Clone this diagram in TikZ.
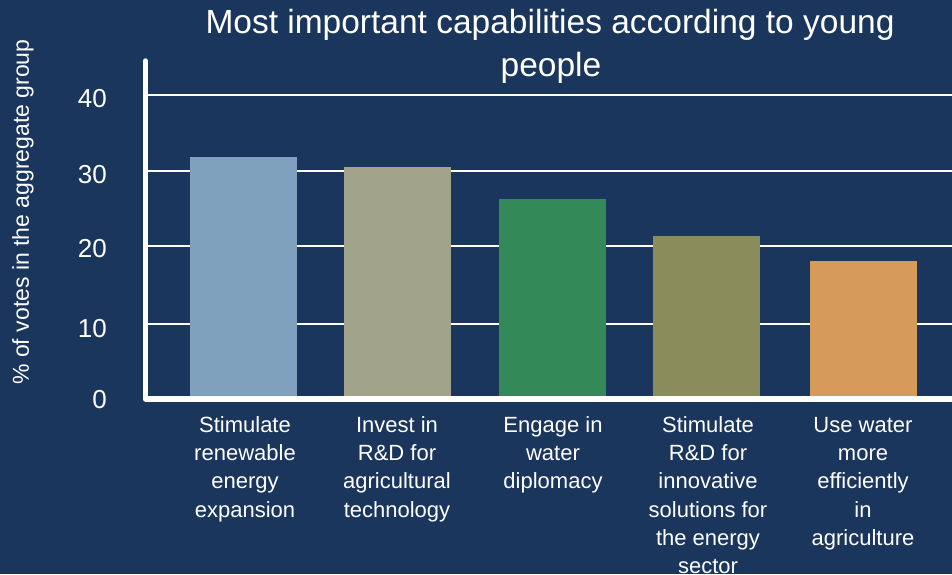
\documentclass[tikz,border=0pt]{standalone}
\usepackage{fontspec}
\setmainfont{Liberation Sans}
\usepackage{tikz}

\definecolor{chartbg}{HTML}{1B365D}
\definecolor{barA}{HTML}{80A1BD}
\definecolor{barB}{HTML}{A1A38B}
\definecolor{barC}{HTML}{338A58}
\definecolor{barD}{HTML}{8A8C5C}
\definecolor{barE}{HTML}{D69B5A}

\begin{document}
\begin{tikzpicture}[x=1pt,y=-1pt,
	gridline/.style={white,line width=1.6pt},
	ticklabel/.style={white,anchor=base east,inner sep=0,font=\fontsize{26}{30}\selectfont},
	catlabel/.style={white,anchor=north,inner sep=0,align=center,font=\fontsize{22}{28.3}\selectfont}]
		\useasboundingbox (0,0) rectangle (952,574);
\fill[chartbg] (0,0) rectangle (952,574); % background 
\draw[gridline] (146,95) -- (952,95); % grid.40 
\draw[gridline] (146,171) -- (952,171); % grid.30 
\draw[gridline] (146,246) -- (952,246); % grid.20 
\draw[gridline] (146,324) -- (952,324); % grid.10 
\fill[barA] (190,157) rectangle (297,397); % bar.1 
\fill[barB] (344,167) rectangle (451,397); % bar.2 
\fill[barC] (499,199) rectangle (606,397); % bar.3 
\fill[barD] (653,236) rectangle (760,397); % bar.4 
\fill[barE] (810,261) rectangle (917,397); % bar.5 
\draw[white,line width=5.5pt,line cap=round,line join=round] (145.5,61) -- (145.5,399) -- (960,399); % axes 
\node[ticklabel] (tick40) at (107,107) {40}; % tick.40 
\node[ticklabel] (tick30) at (107,183) {30}; % tick.30 
\node[ticklabel] (tick20) at (107,257) {20}; % tick.20 
\node[ticklabel] (tick10) at (107,337) {10}; % tick.10 
\node[ticklabel] (tick0) at (107,408) {0}; % tick.0 
\node[white,rotate=90,inner sep=0,font=\fontsize{23}{27}\selectfont] (ylabel) at (23,212) {\% of votes in the aggregate group}; % ylabel 
\node[white,anchor=base,inner sep=0,font=\fontsize{33.5}{40}\selectfont] (titleA) at (550,33) {Most important capabilities according to young}; % title 
\node[white,anchor=base,inner sep=0,font=\fontsize{33.5}{40}\selectfont] (titleB) at (551,76) {people}; % title 
\node[catlabel] (catA) at (245,412.2) {\strut Stimulate\\renewable\\energy\\expansion}; % cat.1 
\node[catlabel] (catB) at (397,412.2) {\strut Invest in\\R\&D for\\agricultural\\technology}; % cat.2 
\node[catlabel] (catC) at (553,412.2) {\strut Engage in\\water\\diplomacy}; % cat.3 
\node[catlabel] (catD) at (708,412.2) {\strut Stimulate\\R\&D for\\innovative\\solutions for\\the energy\\sector}; % cat.4 
\node[catlabel] (catE) at (863,412.2) {\strut Use water\\more\\efficiently\\in\\agriculture}; % cat.5 

		\end{tikzpicture}
\end{document}
